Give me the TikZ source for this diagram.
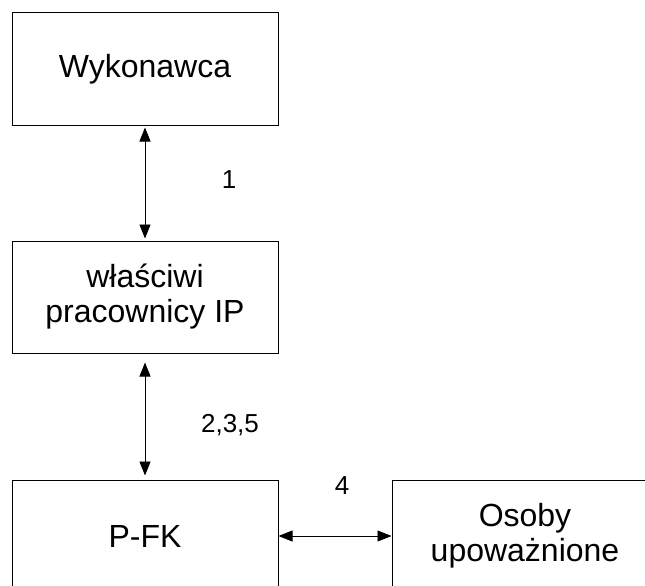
\documentclass[tikz,border=0pt]{standalone}
\usepackage{fontspec}
\setmainfont{Liberation Sans}
\usetikzlibrary{arrows.meta}
\begin{document}
\begin{tikzpicture}[-,>={Triangle[length=14pt,width=11pt]},line width=.8pt,node distance=228pt,
	box/.style={rectangle,draw,line width=1pt,minimum width=266pt,minimum height=112pt,inner sep=0pt,align=center,font=\fontsize{32}{35}\selectfont},
	lbl/.style={font=\fontsize{26}{30}\selectfont}]
	\useasboundingbox (0,0) rectangle (645pt,-586pt);
	\clip (0,0) rectangle (645pt,-586pt);
	\node[box]	(W) at (145pt,-69pt)	{Wykonawca};
	\node[box]	(P) [below of=W]	{właściwi\\pracownicy IP};
	\node[box]	(F) [node distance=239pt,below of=P]	{P-FK};
	\node[box]	(O) [node distance=380pt,right of=F]	{Osoby\\upoważnione};
	\path[<->]
	(W) edge[shorten <=2pt,shorten >=2pt] node[lbl,xshift=84pt,yshift=3pt] {1} (P)
	(P) edge[shorten <=9pt,shorten >=4pt] node[lbl,xshift=85pt,yshift=-9pt] {2,3,5} (F)
	(F) edge node[lbl,xshift=7pt,yshift=50pt] {4} (O)
	;
\end{tikzpicture}
\end{document}
